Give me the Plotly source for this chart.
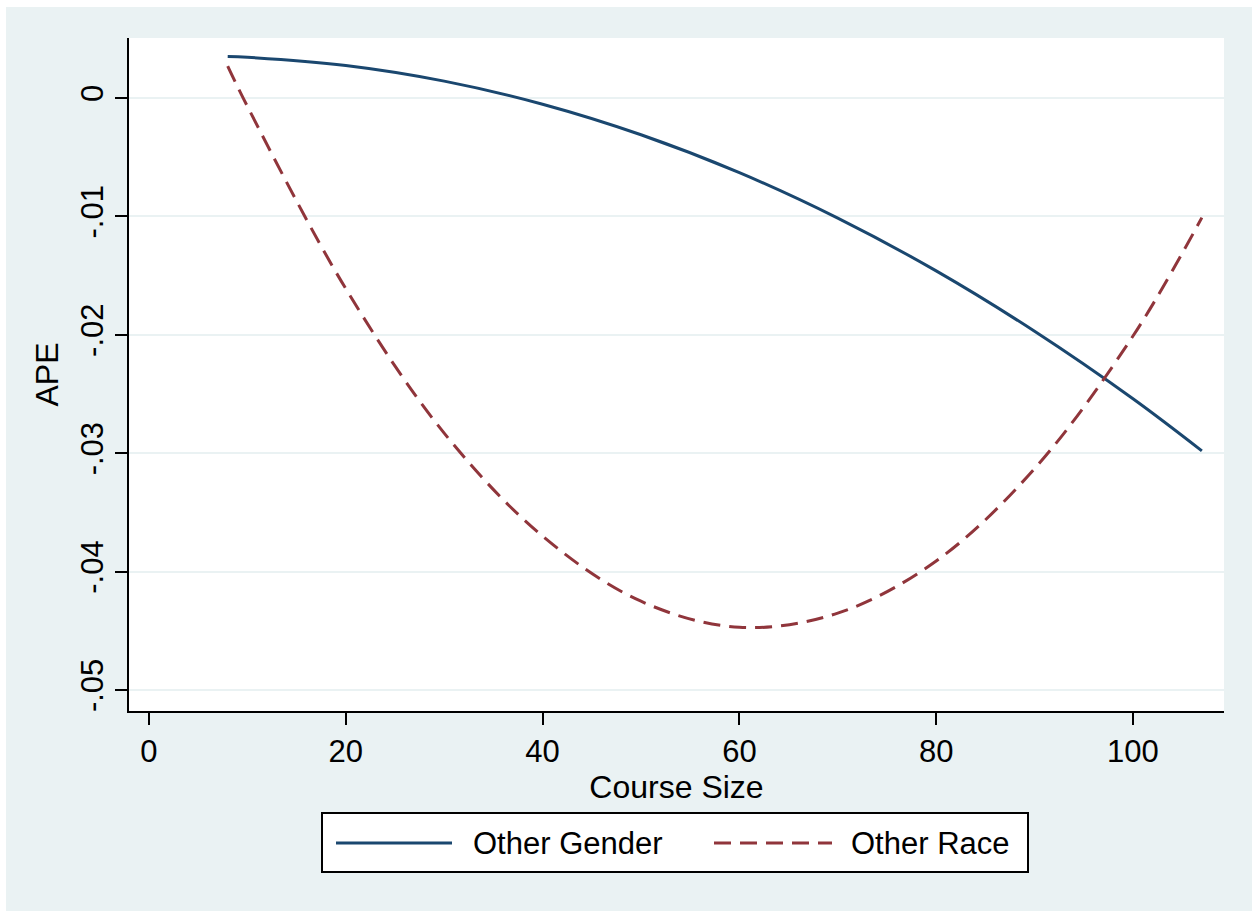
import plotly.graph_objects as go

# Data
course_size = [8, 10, 20, 30, 40, 50, 60, 70, 80, 90, 100, 107]
other_gender = [0.0035, 0.00344, 0.00275, 0.00143, -0.00052, -0.0031, -0.0063,
                -0.01014, -0.0146, -0.0197, -0.0254, -0.0298]
other_race = [0.0027, -0.0007, -0.0161, -0.0283, -0.0370, -0.0425, -0.0447,
              -0.0435, -0.0391, -0.0313, -0.0201, -0.0101]

x_ticks = [0, 20, 40, 60, 80, 100]
y_ticks = [0, -0.01, -0.02, -0.03, -0.04, -0.05]
y_tick_labels = ["0", "-.01", "-.02", "-.03", "-.04", "-.05"]
series_names = ["Other Gender", "Other Race"]
series_colors = ["#1A476F", "#90353B"]

BG = "#EAF2F3"
FONT = "Liberation Sans, Arial, sans-serif"
DASH = "17px,9px"
LW = 3

W, H = 1252, 911
L, R, T, B = 129, 28, 38, 200
pw, ph = W - L - R, H - T - B


def px(xp):
    return (xp - L) / pw


def py(yp):
    return (T + ph - yp) / ph


fig = go.Figure()
fig.add_trace(go.Scatter(x=course_size, y=other_gender, mode="lines", name=series_names[0],
                         line=dict(color=series_colors[0], width=LW, shape="spline")))
fig.add_trace(go.Scatter(x=course_size, y=other_race, mode="lines", name=series_names[1],
                         line=dict(color=series_colors[1], width=LW, dash=DASH,
                                   shape="spline")))

# thin white frame at top/left of the light panel
fig.add_shape(type="rect", xref="paper", yref="paper", x0=px(0), x1=px(6), y0=py(H), y1=py(0),
              fillcolor="white", line=dict(width=0), layer="below")
fig.add_shape(type="rect", xref="paper", yref="paper", x0=px(0), x1=px(W), y0=py(7), y1=py(0),
              fillcolor="white", line=dict(width=0), layer="below")

# legend box (custom, Stata style)
fig.add_shape(type="rect", xref="paper", yref="paper", x0=px(322), x1=px(1028),
              y0=py(872), y1=py(813), fillcolor="white", line=dict(color="black", width=2))
fig.add_shape(type="line", xref="paper", yref="paper", x0=px(336), x1=px(452),
              y0=py(843), y1=py(843), line=dict(color=series_colors[0], width=LW))
fig.add_shape(type="line", xref="paper", yref="paper", x0=px(714), x1=px(832),
              y0=py(843), y1=py(843), line=dict(color=series_colors[1], width=LW, dash=DASH))
fig.add_annotation(text=series_names[0], xref="paper", yref="paper", x=px(471), y=py(843),
                   xanchor="left", yanchor="middle", showarrow=False, font=dict(size=31))
fig.add_annotation(text=series_names[1], xref="paper", yref="paper", x=px(849), y=py(843),
                   xanchor="left", yanchor="middle", showarrow=False, font=dict(size=31))

fig.update_layout(
    width=W, height=H,
    margin=dict(l=L, r=R, t=T, b=B),
    paper_bgcolor=BG, plot_bgcolor="white",
    font=dict(family=FONT, color="black", size=31),
    showlegend=False,
    xaxis=dict(range=[-2.03, 109.25], tickvals=x_ticks, ticks="outside", ticklen=12,
               tickwidth=2, tickcolor="black", showline=True, linecolor="black", linewidth=2,
               showgrid=False, zeroline=False, tickfont=dict(size=31),
               title=dict(text="Course Size", font=dict(size=32), standoff=4)),
    yaxis=dict(range=[-0.05177, 0.00507], tickvals=y_ticks, ticktext=y_tick_labels,
               ticks="outside", ticklen=12, tickwidth=2, tickcolor="black", tickangle=-90,
               showline=True, linecolor="black", linewidth=2,
               showgrid=True, gridcolor=BG, gridwidth=2, zeroline=False,
               tickfont=dict(size=31),
               title=dict(text="APE", font=dict(size=32), standoff=6)),
)

fig.write_html("out.html", config={"displayModeBar": False},
               post_script="document.body.style.margin='0';document.body.style.padding='0';")
